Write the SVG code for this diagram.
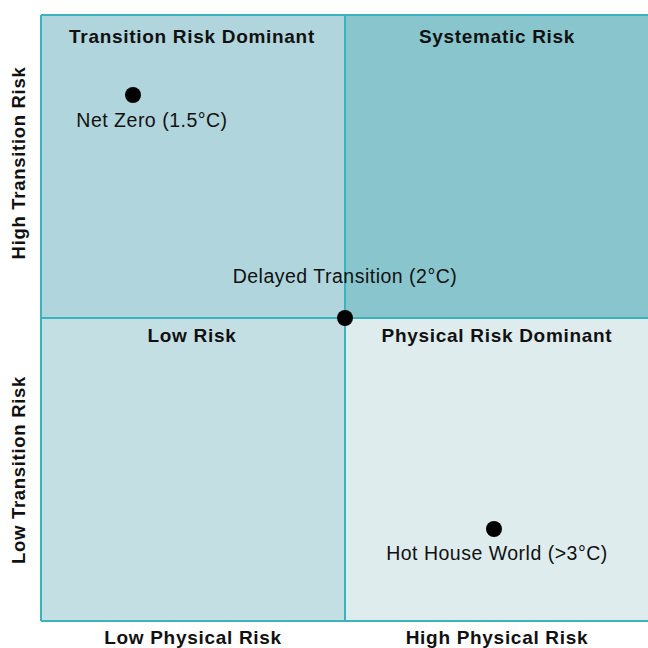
<svg xmlns="http://www.w3.org/2000/svg" width="648" height="648" viewBox="0 0 648 648">
<style>
.q{stroke:none}
.grid{stroke:#3ab3bd;stroke-width:2;fill:none}
.h{font-family:"Liberation Sans",Arial,sans-serif;font-weight:bold;font-size:19px;letter-spacing:0.7px;fill:#111;text-anchor:middle}
.l{font-family:"Liberation Sans",Arial,sans-serif;font-size:19.5px;letter-spacing:0.5px;fill:#111;text-anchor:middle}
.dot{fill:#000}
</style>
<rect width="648" height="648" fill="#fff"/>
<g id="q-tl"><rect class="q" x="41" y="15" width="304" height="303" fill="#b0d5dc"/><text class="h" x="192" y="43">Transition Risk Dominant</text></g>
<g id="q-tr"><rect class="q" x="345" y="15" width="303" height="303" fill="#89c5cd"/><text class="h" x="497" y="43">Systematic Risk</text></g>
<g id="q-bl"><rect class="q" x="41" y="318" width="304" height="303" fill="#c4dfe3"/><text class="h" x="192" y="342">Low Risk</text></g>
<g id="q-br"><rect class="q" x="345" y="318" width="303" height="303" fill="#deecee"/><text class="h" x="497" y="342">Physical Risk Dominant</text></g>
<g id="connectors">
<path class="grid" d="M41,15H648M41,318H648M41,621H648M41,15V621M345,15V621"/>
</g>
<g id="net-zero"><circle class="dot" cx="133" cy="95" r="8"/><text class="l" x="152" y="127">Net Zero (1.5°C)</text></g>
<g id="delayed"><circle class="dot" cx="345" cy="318" r="8"/><text class="l" x="345" y="283">Delayed Transition (2°C)</text></g>
<g id="hot-house"><circle class="dot" cx="494" cy="529" r="8"/><text class="l" x="497" y="560">Hot House World (&gt;3°C)</text></g>
<g id="axes">
<text class="h" x="193" y="644">Low Physical Risk</text>
<text class="h" x="497" y="644">High Physical Risk</text>
<text class="h" style="font-size:18.5px" transform="translate(25,163) rotate(-90)">High Transition Risk</text>
<text class="h" style="font-size:18.5px" transform="translate(25,470) rotate(-90)">Low Transition Risk</text>
</g>
</svg>
